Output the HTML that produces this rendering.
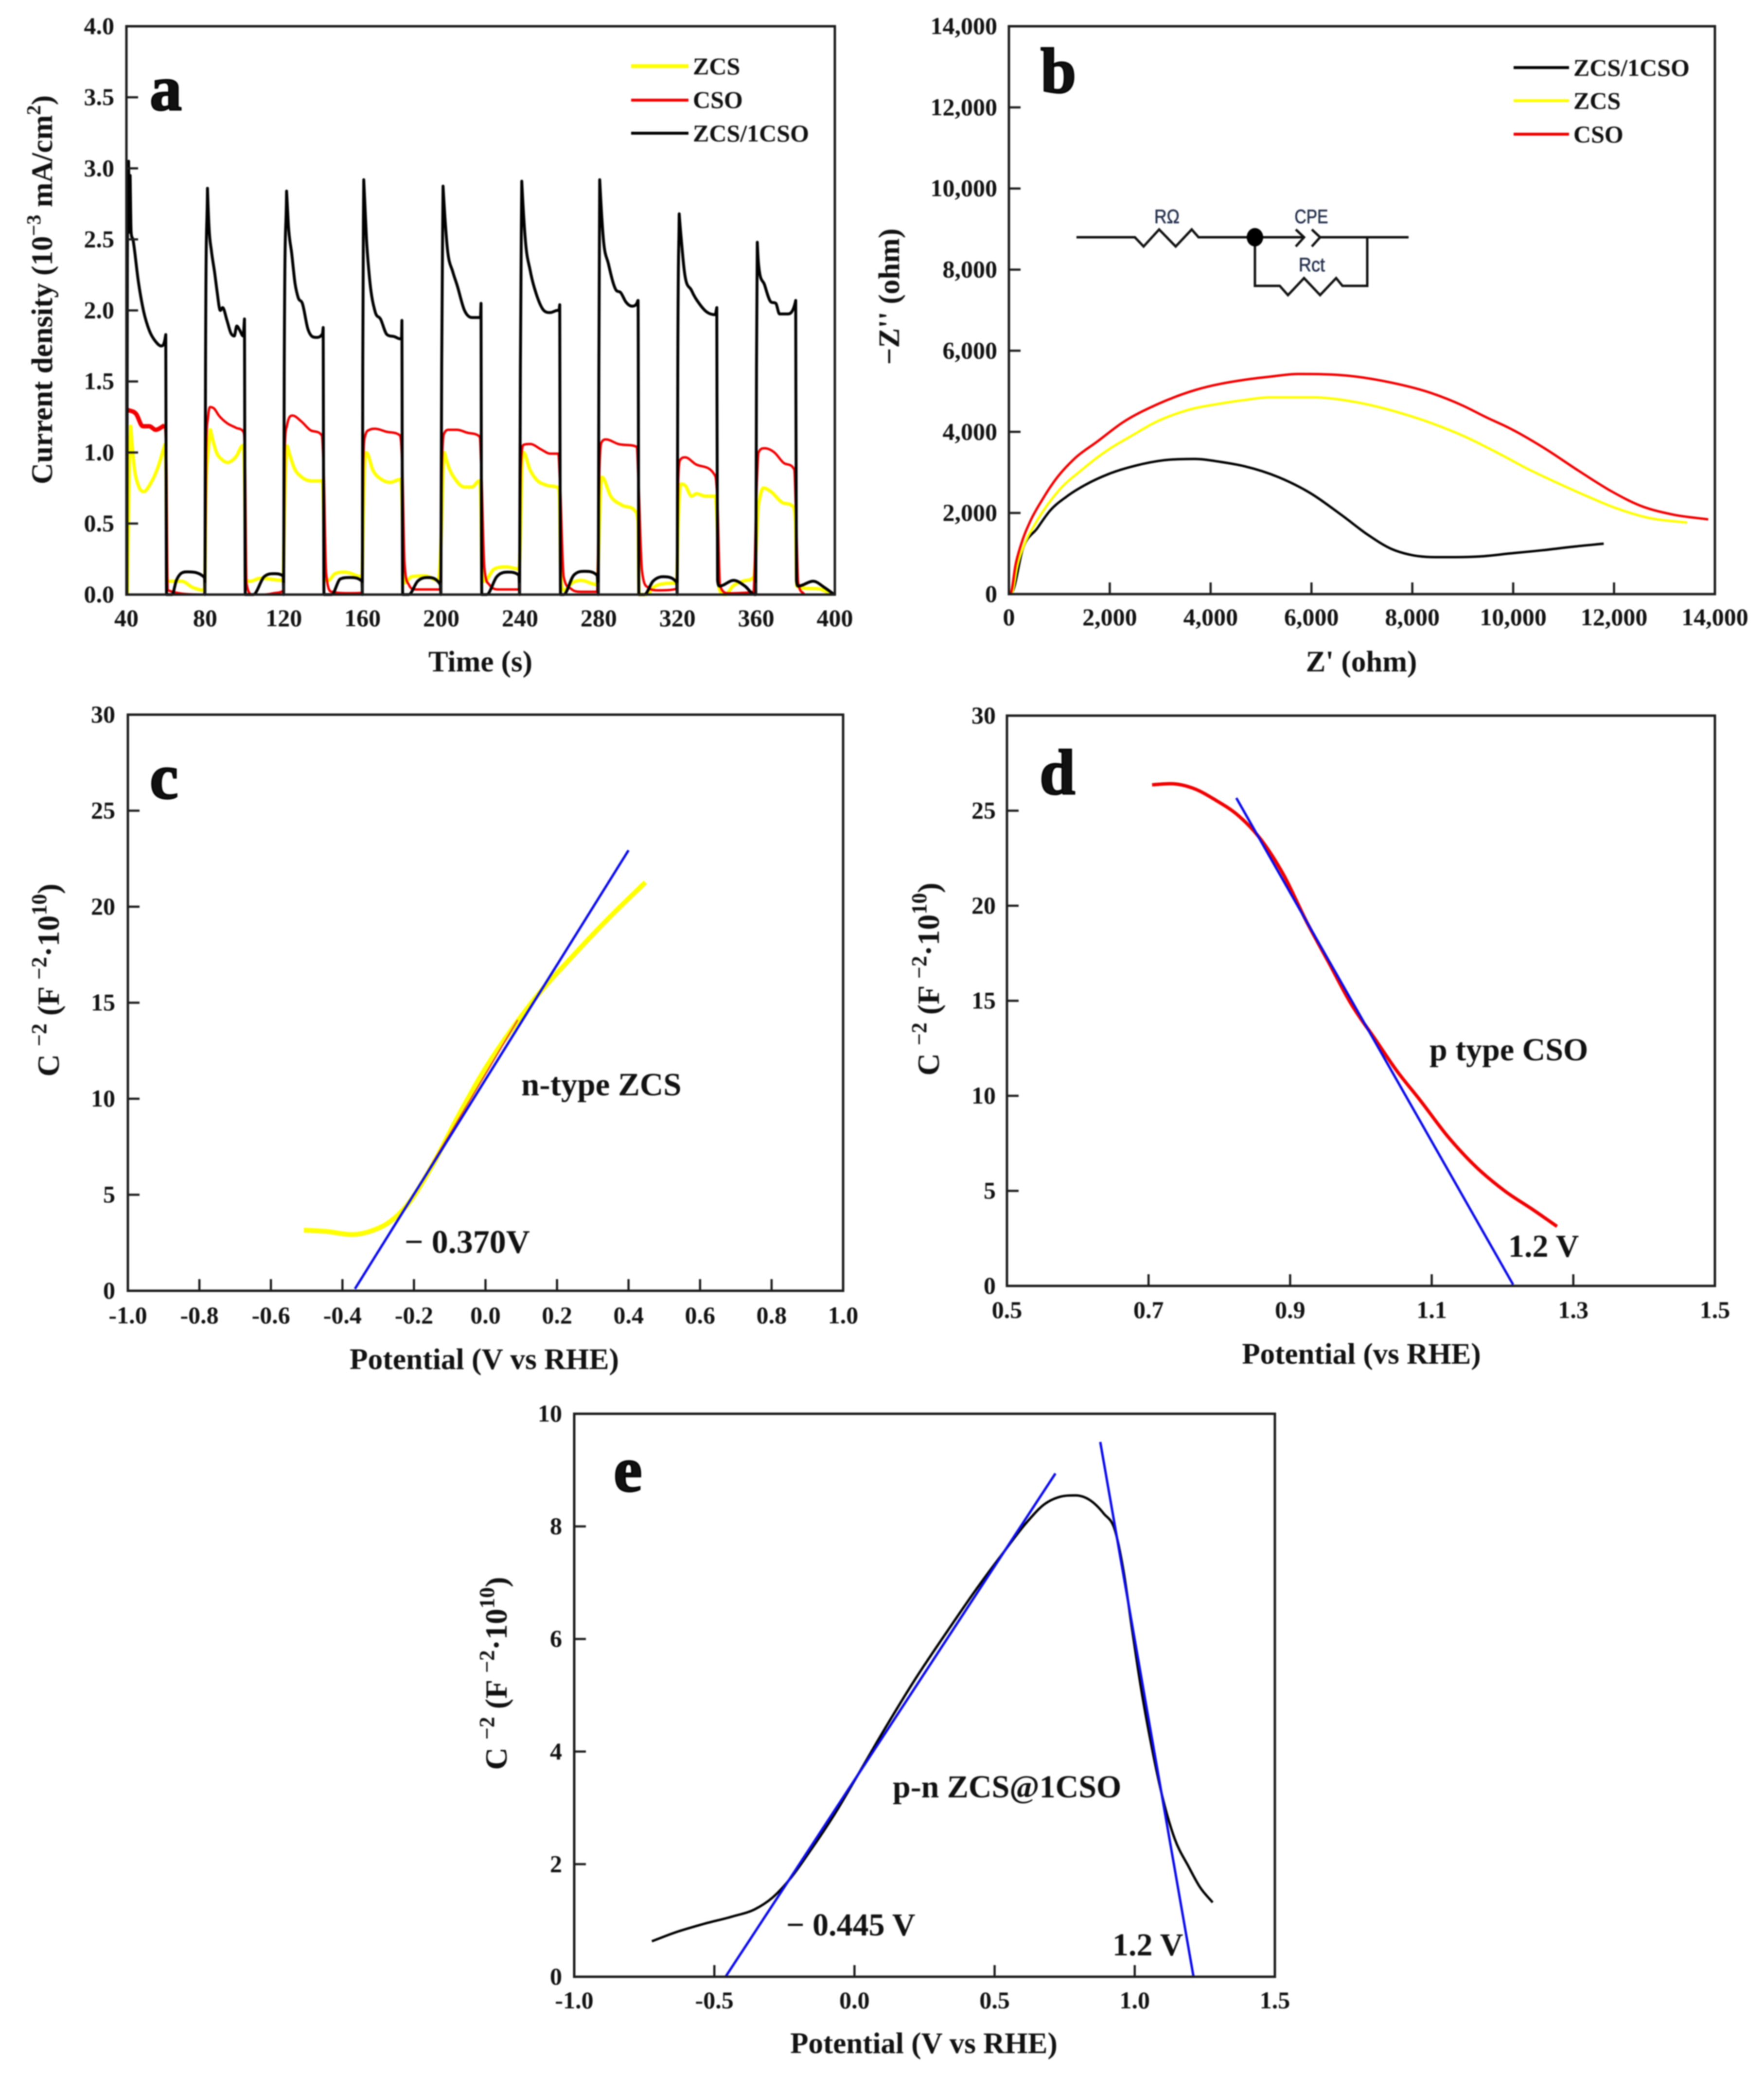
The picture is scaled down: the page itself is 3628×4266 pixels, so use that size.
<!DOCTYPE html>
<html lang="en">
<head>
<meta charset="utf-8">
<title>Photoelectrochemical characterization panels</title>
<style>
html,body{margin:0;padding:0;background:#fff;overflow:hidden;}
svg{display:block;filter:blur(1.2px);}
text{font-family:"Liberation Serif",serif;font-weight:bold;fill:#111;}
.tick{font-size:50px;}
.title{font-size:61px;}
.titlec{font-size:64px;}
.legend{font-size:50px;}
.note{font-size:66px;}
.letter{font-size:132px;stroke:#000;stroke-width:3px;}
.circ{font-family:"Liberation Sans",sans-serif;font-weight:normal;font-size:40px;fill:#26324e;stroke:#26324e;stroke-width:.8px;}
.wire{fill:none;stroke:#111;stroke-width:5;stroke-linejoin:miter;}
</style>
</head>
<body>
<svg id="figure" xmlns="http://www.w3.org/2000/svg" width="3628" height="4266" viewBox="0 0 3628 4266">
<rect width="3628" height="4266" fill="#fff"/>

<g id="panel-a">
  <text class="title" x="988" y="1381" text-anchor="middle">Time (s)</text>
  <text class="title" transform="translate(107 596) rotate(-90)" text-anchor="middle">Current density (10<tspan dy="-24" font-size="41">−3</tspan><tspan dy="24"> mA/cm</tspan><tspan dy="-24" font-size="41">2</tspan><tspan dy="24">)</tspan></text>
  <line x1="1298" x2="1416" y1="136" y2="136" stroke="#ffff00" stroke-width="8"/>
  <line x1="1298" x2="1416" y1="206" y2="206" stroke="#f00000" stroke-width="6"/>
  <line x1="1298" x2="1416" y1="274" y2="274" stroke="#000" stroke-width="6"/>
  <text class="legend" x="1425" y="153">ZCS</text>
  <text class="legend" x="1425" y="222">CSO</text>
  <text class="legend" x="1425" y="291">ZCS/1CSO</text>
  <text class="letter" x="308" y="226">a</text>
</g>

<g id="panel-b">
  <text class="title" x="2800" y="1381" text-anchor="middle">Z' (ohm)</text>
  <text class="title" transform="translate(1849 610) rotate(-90)" text-anchor="middle">−Z'' (ohm)</text>
  <line x1="3113" x2="3227" y1="139" y2="139" stroke="#000" stroke-width="6"/>
  <line x1="3113" x2="3227" y1="207" y2="207" stroke="#ffff00" stroke-width="6"/>
  <line x1="3113" x2="3227" y1="276" y2="276" stroke="#f00000" stroke-width="6"/>
  <text class="legend" x="3236" y="156">ZCS/1CSO</text>
  <text class="legend" x="3236" y="224">ZCS</text>
  <text class="legend" x="3236" y="293">CSO</text>
  <text class="letter" x="2140" y="190">b</text>
  <g id="circuit">
    <polyline class="wire" points="2214,488 2334,488 2352,507 2384,472 2418,507 2451,472 2465,488 2682,488"/>
    <polyline class="wire" points="2665,472 2682,488 2665,507"/>
    <polyline class="wire" points="2698,472 2715,488 2698,507"/>
    <line class="wire" x1="2715" y1="488" x2="2897" y2="488"/>
    <polyline class="wire" points="2581,488 2581,588 2632,588 2649,607 2682,572 2715,607 2748,572 2761,588 2812,588 2812,488"/>
    <ellipse cx="2581" cy="488" rx="17" ry="19" fill="#000"/>
    <text class="circ" x="2400" y="459" text-anchor="middle" textLength="52" lengthAdjust="spacingAndGlyphs">RΩ</text>
    <text class="circ" x="2697" y="459" text-anchor="middle" textLength="69" lengthAdjust="spacingAndGlyphs">CPE</text>
    <text class="circ" x="2698" y="558" text-anchor="middle" textLength="54" lengthAdjust="spacingAndGlyphs">Rct</text>
  </g>
</g>

<g id="panel-c">
  <text class="title" x="996" y="2816" text-anchor="middle" style="font-size:61.5px">Potential (V vs RHE)</text>
  <text class="titlec" transform="translate(121 2016) rotate(-90)" text-anchor="middle">C <tspan dy="-26" font-size="44">−2</tspan><tspan dy="26"> (F </tspan><tspan dy="-26" font-size="44">−2</tspan><tspan dy="26">·10</tspan><tspan dy="-26" font-size="44">10</tspan><tspan dy="26">)</tspan></text>
  <text class="note" x="1072" y="2253" style="font-size:67px">n-type ZCS</text>
  <text class="note" x="832" y="2577" style="font-size:68px">− 0.370V</text>
  <text class="letter" x="308" y="1642">c</text>
</g>

<g id="panel-d">
  <text class="title" x="2800" y="2805" text-anchor="middle">Potential (vs RHE)</text>
  <text class="titlec" transform="translate(1931 2014) rotate(-90)" text-anchor="middle">C <tspan dy="-26" font-size="44">−2</tspan><tspan dy="26"> (F </tspan><tspan dy="-26" font-size="44">−2</tspan><tspan dy="26">·10</tspan><tspan dy="-26" font-size="44">10</tspan><tspan dy="26">)</tspan></text>
  <text class="note" x="2940" y="2181">p type CSO</text>
  <text class="note" x="3102" y="2585">1.2 V</text>
  <text class="letter" x="2138" y="1633">d</text>
</g>

<g id="panel-e">
  <text class="title" x="1900" y="4223" text-anchor="middle">Potential (V vs RHE)</text>
  <text class="titlec" transform="translate(1042 3442) rotate(-90)" text-anchor="middle">C <tspan dy="-26" font-size="44">−2</tspan><tspan dy="26"> (F </tspan><tspan dy="-26" font-size="44">−2</tspan><tspan dy="26">·10</tspan><tspan dy="-26" font-size="44">10</tspan><tspan dy="26">)</tspan></text>
  <text class="note" x="1836" y="3697">p-n ZCS@1CSO</text>
  <text class="note" x="1617" y="3981">− 0.445 V</text>
  <text class="note" x="2288" y="4022">1.2 V</text>
  <text class="letter" x="1262" y="3067">e</text>
</g>
</svg>

<script>
/* ---------- Panel a: current density vs time ---------- */
const aXLabels = ["40","80","120","160","200","240","280","320","360","400"];
const aYLabels = ["0.0","0.5","1.0","1.5","2.0","2.5","3.0","3.5","4.0"];
const aBlackTime = [
40.2,40.5,41.1,41.5,41.9,42.4,43.3,46.1,48.8,51.6,54.9,57.7,59.5,60,60.4,63.2,65.4,70.9,79.7,79.9,
80.2,81.2,82,83.2,84.9,86.1,87.7,88.9,91.1,93.1,94.8,96.1,97.6,99.3,100,100.4,104.5,110,115,119.7,119.9,
120.2,121.4,122.3,124,125.7,127.3,129.4,132.2,136.4,139.6,140,140.4,144.3,148.7,153.6,159.7,159.9,
160.1,160.6,162,163.6,166.4,169.1,172.4,176.3,179,179.8,180,180.4,183.5,188,193,199.5,199.8,
200.2,200.9,203,205.9,208,211.8,215.6,219.3,219.9,220.2,220.6,223.1,228.2,233.8,239.5,239.8,
240.2,240.9,242.7,245.2,248.3,252.1,255.3,259.1,259.8,260.2,260.6,262.2,267.3,272.9,279.2,279.8,
280.1,280.5,282.4,284.9,288.7,291.2,293.8,296.9,299.4,300,300.4,303.2,307.6,312.7,319.6,319.9,
320.2,320.9,322.1,323.4,327.2,331,334.8,339.2,340,340.4,341.4,348.6,354.3,359.3,359.8,
360.2,360.6,361.2,364.3,367.5,370,371.9,375.7,379.8,380.1,380.5,381.4,389,394.7,399.7];
const aBlackCurrent = [
0,2.4,3.05,2.55,2.95,2.55,2.5,2.2,1.99,1.86,1.78,1.75,1.79,1.83,0,0,.10,.16,.12,0,
1.6,2.86,2.58,2.42,2.26,2.13,2.0,2.02,1.93,1.84,1.82,1.89,1.86,1.82,1.94,0,0,.126,.147,.13,0,
1.6,2.84,2.6,2.4,2.19,2.09,2.05,1.87,1.81,1.835,1.88,0,0,.11,.12,.094,0,
1.6,2.92,2.5,2.22,1.99,1.94,1.83,1.815,1.80,1.80,1.93,0,0,.094,.12,.07,0,
1.6,2.875,2.45,2.27,2.18,2.0,1.95,1.95,1.95,2.05,0,0,.126,.158,.136,0,
1.6,2.91,2.5,2.28,2.115,2.0,1.985,2.0,2.0,2.04,0,0,.136,.164,.136,0,
1.6,2.92,2.5,2.33,2.146,2.125,2.06,2.03,2.05,2.07,0,0,.094,.126,.087,0,
1.6,2.68,2.48,2.29,2.14,2.05,1.99,1.97,2.02,.1,.06,.10,.06,0,0,
1.6,2.48,2.33,2.18,2.06,2.05,1.975,1.975,2.05,2.07,.1,.06,.094,.05,0];
const aRedTime = [
40.6,45,48.3,51.6,54.9,59.3,60.2,61,79,79.9,80.5,81.5,82.5,84.5,87,91.3,95.7,99.6,100.2,101,104,110,115,119.9,
120.4,121.6,124.4,128.8,133.2,139.3,140.2,141.5,144.3,153,159.7,
160.3,161.4,163.6,166.4,171.9,179,180.2,181.3,183.5,186.8,199.5,
200.3,201.7,203.9,208,213,219.6,220.3,221.9,224.4,229.4,239.5,
240.4,242,245.2,250.9,255.3,259.5,260.3,262.2,266,271,279.2,
280.4,281.7,283.7,289.9,299.4,300.2,302,305.1,310,319.6,
320.4,321.5,324,329,339.2,340.2,341.7,346,353,358.7,
360.4,361.2,364.3,369.3,373.7,379.4,380.2,381.4,384.5];
const aRedCurrent = [
1.30,1.27,1.185,1.185,1.16,1.19,1.0,.03,0,.03,1.0,1.25,1.32,1.31,1.26,1.205,1.174,1.142,1.0,.08,0,0,.01,.03,
1.0,1.19,1.26,1.22,1.16,1.12,.9,.15,.02,.01,.012,
.9,1.12,1.16,1.167,1.147,1.12,.9,.23,.07,.036,.036,
.9,1.14,1.16,1.16,1.14,1.11,.9,.19,.07,.036,.036,
.9,1.055,1.06,1.02,.992,.992,.8,.126,.04,.02,.02,
.9,1.077,1.092,1.06,1.04,.8,.168,.05,.03,.04,
.8,.95,.966,.92,.836,.7,.06,.009,.012,.02,
.8,1.0,1.03,1.0,.93,.88,.6,.083,0];
const aYellowTime = [
40.5,41.5,42.2,44,46.1,48.9,52.2,56,59.5,60.2,60.6,62.6,68.1,73.7,79.7,
80.4,81.5,82.7,85.8,88.6,91.3,95.7,99.3,100.2,100.7,103,108,119.6,
120.2,121,121.8,125.5,128.8,134.3,139.3,140.2,140.7,142.6,146,151,159.7,
160.3,161,162,165.3,169.7,174.2,179,180.2,180.7,181.3,185,191.7,198.4,
200.2,201,201.7,204,207.2,211.8,215.6,219.3,220.2,220.7,221.9,226.9,233.3,239.5,
240.4,241,241.8,245.2,248.3,253.4,259.5,260.2,260.7,262.2,266.6,271,279.2,
280.4,281,281.7,286.1,291.8,298.7,300,300.5,303.8,308.8,313.8,319.6,
320.4,321,322,324,327.2,329.7,334.2,339.2,340.2,341.3,344.3,348.2,353.2,358.7,
360.3,361,361.9,363.7,367.5,373,378.7,380,380.7,384.5,392.1,398.5];
const aYellowCurrent = [
0,.9,1.185,.895,.767,.725,.78,.895,1.055,.8,.1,.094,.094,.05,.03,
.7,1.0,1.16,1.0,.95,.93,.97,1.05,.7,.1,.094,.115,.1,
.5,.9,1.045,.885,.83,.80,.80,.6,.1,.1,.147,.158,.126,
.5,.9,.998,.875,.81,.79,.81,.6,.15,.083,.126,.132,.1,
.5,.9,.998,.89,.81,.757,.757,.8,.6,.15,.094,.18,.195,.18,
.5,.9,1.0,.875,.81,.77,.75,.6,.15,.03,.083,.1,.07,
.5,.75,.826,.693,.63,.585,.5,0,0,.06,.078,.083,
.5,.7,.778,.767,.693,.71,.693,.693,.5,.04,0,.06,.094,.122,
.4,.6,.68,.75,.725,.65,.62,.5,.06,.045,.04,0];

/* ---------- Panel b: Nyquist plot ---------- */
const bXLabels = ["0","2,000","4,000","6,000","8,000","10,000","12,000","14,000"];
const bYLabels = ["0","2,000","4,000","6,000","8,000","10,000","12,000","14,000"];
const bRedReal = [10,48,129,241,418,659,948,1302,1752,2266,2941,3712,4676,5158,5737,6605,7569,8373,9015,9497,9883,10590,11297,11940,12518,13162,13868];
const bRedImag = [0,64,703,1223,1782,2321,2861,3340,3760,4239,4678,5038,5285,5358,5426,5398,5218,4958,4639,4340,4119,3620,3041,2541,2181,1962,1842];
const bYellowReal = [15,70,161,306,498,980,1462,1945,2427,2909,3551,4194,4676,5158,6026,6862,7730,8373,9015,9787,10269,10912,11490,12036,12679,13451];
const bYellowImag = [0,60,663,1223,1682,2541,3080,3540,3899,4239,4539,4698,4786,4851,4851,4738,4479,4219,3899,3420,3101,2721,2401,2122,1882,1762];
const bBlackReal = [15,70,273,562,820,1141,1526,1977,2491,3069,3680,4194,4676,5351,5962,6605,7119,7569,7987,8469,8854,9305,9947,10590,11233,11795];
const bBlackImag = [0,60,1103,1622,2062,2401,2701,2961,3161,3300,3332,3260,3150,2880,2501,1942,1462,1123,963,911,911,925,1003,1082,1175,1243];

/* ---------- Panel c: Mott-Schottky ZCS ---------- */
const cXLabels = ["-1.0","-0.8","-0.6","-0.4","-0.2","0.0","0.2","0.4","0.6","0.8","1.0"];
const cYLabels = ["0","5","10","15","20","25","30"];
const cYellowPotential = [-.508,-.445,-.374,-.319,-.264,-.225,-.146,-.075,-.005,.082,.153,.231,.341,.447];
const cYellowValue = [3.16,3.09,2.93,3.12,3.64,4.33,6.62,9.14,11.44,13.84,15.56,17.17,19.34,21.27];
const cRedPotential = [-.22,.09];
const cRedValue = [4.4,14.1];
const cFitPotential = [-.365,.4];
const cFitValue = [.1,22.94];

/* ---------- Panel d: Mott-Schottky CSO ---------- */
const dXLabels = ["0.5","0.7","0.9","1.1","1.3","1.5"];
const dYLabels = ["0","5","10","15","20","25","30"];
const dRedPotential = [.705,.731,.763,.795,.827,.859,.891,.923,.955,.987,1.019,1.051,1.083,1.123,1.163,1.203,1.243,1.277];
const dRedValue = [26.36,26.42,26.18,25.55,24.74,23.47,21.61,19.18,16.98,14.78,13.04,11.3,9.8,7.85,6.25,5.0,4.01,3.13];
const dFitPotential = [.824,1.215];
const dFitValue = [25.67,.07];

/* ---------- Panel e: Mott-Schottky heterojunction ---------- */
const eXLabels = ["-1.0","-0.5","0.0","0.5","1.0","1.5"];
const eYLabels = ["0","2","4","6","8","10"];
const eBlackPotential = [-.723,-.638,-.537,-.436,-.355,-.294,-.233,-.152,-.072,.009,.11,.212,.333,.434,.535,.616,.677,.737,.788,.839,.889,.93,.96,.99,1.021,1.061,1.102,1.142,1.193,1.233,1.278];
const eBlackValue = [.63,.79,.94,1.07,1.2,1.4,1.72,2.28,2.88,3.56,4.42,5.25,6.15,6.88,7.56,8.08,8.39,8.53,8.55,8.47,8.23,7.92,7.21,6.19,5.17,4.07,3.13,2.46,1.95,1.59,1.32];
const eFitLeftPotential = [-.46,.717];
const eFitLeftValue = [0,8.94];
const eFitRightPotential = [.877,1.209];
const eFitRightValue = [9.5,.02];

const SVG_NS = "http://www.w3.org/2000/svg";
const FRAME_COLOR = "#1c1c1c";
const CUSP_SLOPE = 3;

function numeric(label){
  return Number(label.replace(/,/g, ""));
}
function linearScale(d0, d1, r0, r1){
  return function(v){ return r0 + (v - d0) * (r1 - r0) / (d1 - d0); };
}
function makeAxes(box, xLabels, yLabels){
  const xs = xLabels.map(numeric);
  const ys = yLabels.map(numeric);
  return {
    box: box,
    xLabels: xLabels,
    yLabels: yLabels,
    x: linearScale(xs[0], xs[xs.length - 1], box.left, box.right),
    y: linearScale(ys[0], ys[ys.length - 1], box.bottom, box.top)
  };
}
/* Smooth cubic, clamped so jumps do not overshoot; sharp peaks stay cusped. */
function curvePath(px, py){
  const n = px.length;
  const dx = [], sl = [];
  const mIn = new Array(n).fill(0);
  const mOut = new Array(n).fill(0);
  for (let i = 0; i < n - 1; i++){
    dx.push(px[i + 1] - px[i]);
    sl.push((py[i + 1] - py[i]) / dx[i]);
  }
  mOut[0] = sl[0];
  mIn[n - 1] = sl[n - 2];
  for (let i = 1; i < n - 1; i++){
    const a = sl[i - 1], b = sl[i];
    if (a * b < 0 && Math.abs(a) > CUSP_SLOPE && Math.abs(b) > CUSP_SLOPE){
      mIn[i] = a;
      mOut[i] = b * 1.2;
    } else if (a * b <= 0){
      mIn[i] = 0;
      mOut[i] = 0;
    } else {
      const mid = (a * dx[i] + b * dx[i - 1]) / (dx[i] + dx[i - 1]);
      const limit = 3 * Math.min(Math.abs(a), Math.abs(b));
      const m = Math.sign(mid) * Math.min(Math.abs(mid), limit);
      mIn[i] = m;
      mOut[i] = m;
    }
  }
  let d = "M" + px[0].toFixed(1) + " " + py[0].toFixed(1);
  for (let i = 0; i < n - 1; i++){
    const c1x = px[i] + dx[i] / 3;
    const c1y = py[i] + mOut[i] * dx[i] / 3;
    const c2x = px[i + 1] - dx[i] / 3;
    const c2y = py[i + 1] - mIn[i + 1] * dx[i] / 3;
    d += "C" + c1x.toFixed(1) + " " + c1y.toFixed(1) + " " + c2x.toFixed(1) + " " + c2y.toFixed(1) + " " + px[i + 1].toFixed(1) + " " + py[i + 1].toFixed(1);
  }
  return d;
}
function drawSeries(panelId, axes, xs, ys, color, width, seriesName){
  const el = document.createElementNS(SVG_NS, "path");
  
  
  el.setAttribute("d", curvePath(xs.map(axes.x), ys.map(axes.y)));
  el.setAttribute("fill", "none");
  el.setAttribute("stroke", color);
  el.setAttribute("stroke-width", width);
  el.setAttribute("stroke-linejoin", "round");
  document.getElementById(panelId).appendChild(el);
}
function drawFrame(panelId, axes, opt){
  const g = document.getElementById(panelId);
  const b = axes.box;
  axes.xLabels.forEach(function(label){
    const px = axes.x(numeric(label));
    const tick = document.createElementNS(SVG_NS, "line");
    
    
    tick.setAttribute("x1", px);
    tick.setAttribute("x2", px);
    tick.setAttribute("y1", b.bottom);
    tick.setAttribute("y2", b.bottom - 24);
    tick.setAttribute("stroke", FRAME_COLOR);
    tick.setAttribute("stroke-width", 4.5);
    g.appendChild(tick);
    const text = document.createElementNS(SVG_NS, "text");
    
    
    text.setAttribute("class", "tick");
    text.setAttribute("x", px);
    text.setAttribute("y", opt.xLabelY);
    text.setAttribute("text-anchor", "middle");
    text.textContent = label;
    g.appendChild(text);
  });
  axes.yLabels.forEach(function(label){
    const py = axes.y(numeric(label));
    const tick = document.createElementNS(SVG_NS, "line");
    
    
    tick.setAttribute("x1", b.left);
    tick.setAttribute("x2", b.left + 24);
    tick.setAttribute("y1", py);
    tick.setAttribute("y2", py);
    tick.setAttribute("stroke", FRAME_COLOR);
    tick.setAttribute("stroke-width", 4.5);
    g.appendChild(tick);
    const text = document.createElementNS(SVG_NS, "text");
    
    
    text.setAttribute("class", "tick");
    text.setAttribute("x", opt.yLabelX);
    text.setAttribute("y", py + 16);
    text.setAttribute("text-anchor", "end");
    text.textContent = label;
    g.appendChild(text);
  });
  const frame = document.createElementNS(SVG_NS, "rect");
  
  
  frame.setAttribute("x", b.left);
  frame.setAttribute("y", b.top);
  frame.setAttribute("width", b.right - b.left);
  frame.setAttribute("height", b.bottom - b.top);
  frame.setAttribute("fill", "none");
  frame.setAttribute("stroke", FRAME_COLOR);
  frame.setAttribute("stroke-width", 5);
  g.appendChild(frame);
}

const axesA = makeAxes({left:260,right:1717,top:54,bottom:1223}, aXLabels, aYLabels);
drawSeries("panel-a", axesA, aYellowTime, aYellowCurrent, "#ffff00", 7, "series-zcs");
drawSeries("panel-a", axesA, aRedTime, aRedCurrent, "#f00000", 5, "series-cso");
drawSeries("panel-a", axesA, aRedTime.slice(0, 6), aRedCurrent.slice(0, 6), "#f00000", 9, "series-cso-noisy-start");
drawSeries("panel-a", axesA, aBlackTime, aBlackCurrent, "#000000", 6, "series-zcs-1cso");
drawFrame("panel-a", axesA, {xLabelY:1288, yLabelX:235});

const axesB = makeAxes({left:2075,right:3527,top:54,bottom:1222}, bXLabels, bYLabels);
drawSeries("panel-b", axesB, bBlackReal, bBlackImag, "#000000", 5, "series-zcs-1cso");
drawSeries("panel-b", axesB, bYellowReal, bYellowImag, "#ffff00", 5, "series-zcs");
drawSeries("panel-b", axesB, bRedReal, bRedImag, "#f00000", 5, "series-cso");
drawFrame("panel-b", axesB, {xLabelY:1286, yLabelX:2051});

const axesC = makeAxes({left:263,right:1734,top:1470,bottom:2655}, cXLabels, cYLabels);
drawSeries("panel-c", axesC, cYellowPotential, cYellowValue, "#ffff00", 10, "series-zcs");
drawSeries("panel-c", axesC, cRedPotential, cRedValue, "#e8501a", 3, "linear-region");
drawSeries("panel-c", axesC, cFitPotential, cFitValue, "#0a0ae6", 5, "tangent-line");
drawFrame("panel-c", axesC, {xLabelY:2722, yLabelX:237});

const axesD = makeAxes({left:2071,right:3527,top:1472,bottom:2645}, dXLabels, dYLabels);
drawSeries("panel-d", axesD, dRedPotential, dRedValue, "#f00000", 7, "series-cso");
drawSeries("panel-d", axesD, dFitPotential, dFitValue, "#0a0ae6", 5, "tangent-line");
drawFrame("panel-d", axesD, {xLabelY:2711, yLabelX:2048});

const axesE = makeAxes({left:1181,right:2622,top:2908,bottom:4066}, eXLabels, eYLabels);
drawSeries("panel-e", axesE, eBlackPotential, eBlackValue, "#000000", 5, "series-zcs-1cso");
drawSeries("panel-e", axesE, eFitLeftPotential, eFitLeftValue, "#0a0ae6", 5, "tangent-line-n-side");
drawSeries("panel-e", axesE, eFitRightPotential, eFitRightValue, "#0a0ae6", 5, "tangent-line-p-side");
drawFrame("panel-e", axesE, {xLabelY:4131, yLabelX:1156});
</script>
</body>
</html>
